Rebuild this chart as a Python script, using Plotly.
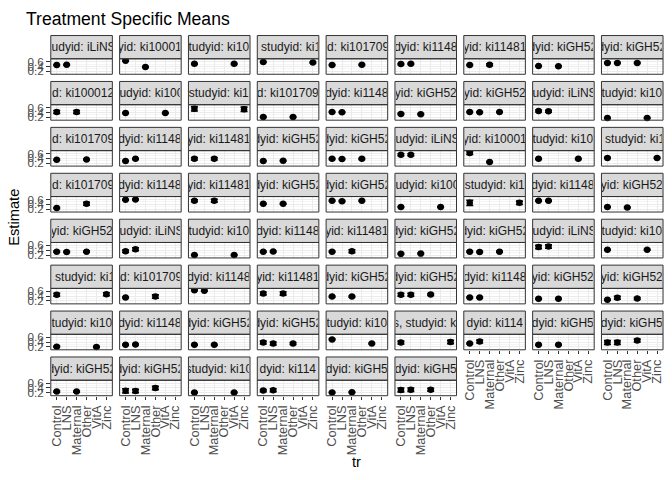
import plotly.graph_objects as go

W, H = 672, 480

categories = ["Control", "LNS", "Maternal", "Other", "VitA", "Zinc"]
y_ticks = [0.2, 0.4, 0.6]
y_tick_labels = ["0.2", "0.4", "0.6"]

strip_labels = [
    "tudyid: iLiNS", "yid: ki10001", "tudyid: ki10", ", studyid: ki1", "id: ki101709", "dyid: ki1148", "yid: ki11481", "dyid: kiGH52", "dyid: kiGH52",
    "id: ki100012", "tudyid: ki100", "studyid: ki1", "d: ki101709", "dyid: ki1148", "yid: kiGH52", "yid: kiGH52", "tudyid: iLiNS", "tudyid: ki10",
    "id: ki101709", "dyid: ki1148", "yid: ki11481", "dyid: kiGH52", "dyid: kiGH52", "tudyid: iLiNS", "yid: ki10001", "tudyid: ki10", ", studyid: ki1",
    "id: ki101709", "dyid: ki1148", "yid: ki11481", "dyid: kiGH52", "dyid: kiGH52", "tudyid: ki100", "studyid: ki1", "dyid: ki1148", "yid: kiGH52",
    "yid: kiGH52", "tudyid: iLiNS", "tudyid: ki10", "dyid: ki1148", "yid: ki11481", "dyid: kiGH52", "dyid: kiGH52", "tudyid: iLiNS", "tudyid: ki10",
    ", studyid: ki1", "id: ki101709", "dyid: ki1148", "yid: ki11481", "dyid: kiGH52", "dyid: kiGH52", "dyid: ki1148", "yid: kiGH52", "yid: kiGH52",
    "tudyid: ki10", "dyid: ki1148", "dyid: kiGH52", "dyid: kiGH52", "tudyid: ki10", "s, studyid: ki", "dyid: ki114", "dyid: kiGH5", "dyid: kiGH5",
    "dyid: kiGH52", "dyid: kiGH52", "studyid: ki10", "dyid: ki114", "dyid: kiGH5", "dyid: kiGH5",
]

C, L, M, O, V, Z = categories
panel_tr = [
    [C, L], [C, M], [C, V], [C, Z], [C, O], [C, L], [C, M], [C, M], [C, L, O],
    [C, M], [C, V], [C, Z], [C, O], [C, L], [C, M], [C, L, O], [C, L], [C, V],
    [C, O], [C, L], [C, M], [C, M], [C, L, O], [C, L], [C, M], [C, V], [C, Z],
    [C, O], [C, L], [C, M], [C, M], [C, L, O], [C, V], [C, Z], [C, L], [C, M],
    [C, L, O], [C, L], [C, V], [C, L], [C, M], [C, M], [C, L, O], [C, L], [C, V],
    [C, Z], [C, O], [C, L], [C, M], [C, M], [C, L, O], [C, L], [C, M], [C, L, O],
    [C, V], [C, L], [C, M], [C, L, O], [C, V], [C, Z], [C, L], [C, M], [C, L, O],
    [C, M], [C, L, O], [C, V], [C, L], [C, M], [C, L, O],
]
panel_est = [
    [0.46, 0.47], [0.64, 0.38], [0.51, 0.51], [0.59, 0.57], [0.46, 0.47], [0.50, 0.51], [0.46, 0.47], [0.42, 0.41], [0.55, 0.55, 0.55],
    [0.42, 0.42], [0.38, 0.38], [0.55, 0.53], [0.21, 0.21], [0.42, 0.41], [0.34, 0.33], [0.42, 0.41, 0.42], [0.46, 0.45], [0.17, 0.17],
    [0.34, 0.35], [0.29, 0.38], [0.38, 0.38], [0.29, 0.30], [0.38, 0.37, 0.38], [0.55, 0.55], [0.62, 0.25], [0.38, 0.38], [0.42, 0.42],
    [0.25, 0.42], [0.59, 0.60], [0.55, 0.55], [0.42, 0.42], [0.55, 0.53, 0.55], [0.29, 0.29], [0.46, 0.46], [0.55, 0.55], [0.29, 0.27],
    [0.34, 0.33, 0.34], [0.36, 0.44], [0.20, 0.20], [0.34, 0.35], [0.34, 0.36], [0.25, 0.26], [0.34, 0.33, 0.34], [0.53, 0.55], [0.42, 0.42],
    [0.46, 0.48], [0.34, 0.38], [0.64, 0.62], [0.51, 0.51], [0.38, 0.38], [0.46, 0.46, 0.47], [0.34, 0.34], [0.29, 0.29], [0.25, 0.33, 0.30],
    [0.21, 0.20], [0.29, 0.30], [0.29, 0.29], [0.38, 0.34, 0.34], [0.51, 0.34], [0.38, 0.40], [0.34, 0.42], [0.29, 0.29], [0.38, 0.38, 0.46],
    [0.25, 0.25], [0.28, 0.27, 0.40], [0.21, 0.21], [0.29, 0.31], [0.21, 0.22], [0.32, 0.33, 0.33],
]
panel_err = [
    [0.02, 0.02], [0.02, 0.02], [0.02, 0.02], [0.02, 0.02], [0.02, 0.02], [0.02, 0.02], [0.02, 0.04], [0.02, 0.02], [0.02, 0.02, 0.02],
    [0.06, 0.06], [0.02, 0.02], [0.09, 0.09], [0.02, 0.02], [0.02, 0.02], [0.02, 0.02], [0.02, 0.02, 0.02], [0.04, 0.04], [0.02, 0.02],
    [0.02, 0.02], [0.02, 0.02], [0.05, 0.05], [0.02, 0.02], [0.02, 0.02, 0.02], [0.04, 0.04], [0.06, 0.02], [0.02, 0.02], [0.02, 0.02],
    [0.02, 0.06], [0.02, 0.02], [0.04, 0.06], [0.02, 0.02], [0.02, 0.02, 0.02], [0.02, 0.02], [0.11, 0.07], [0.02, 0.02], [0.02, 0.02],
    [0.02, 0.02, 0.02], [0.05, 0.06], [0.02, 0.02], [0.02, 0.02], [0.02, 0.06], [0.02, 0.02], [0.02, 0.02, 0.02], [0.07, 0.07], [0.02, 0.02],
    [0.06, 0.06], [0.02, 0.07], [0.02, 0.02], [0.06, 0.07], [0.02, 0.02], [0.06, 0.06, 0.04], [0.02, 0.02], [0.02, 0.02], [0.02, 0.06, 0.04],
    [0.02, 0.02], [0.02, 0.02], [0.02, 0.02], [0.06, 0.06, 0.04], [0.02, 0.02], [0.06, 0.07], [0.02, 0.06], [0.02, 0.02], [0.08, 0.08, 0.06],
    [0.02, 0.02], [0.09, 0.07, 0.07], [0.02, 0.02], [0.04, 0.06], [0.02, 0.02], [0.08, 0.07, 0.06],
]

# ---- layout geometry (pixels) ----
NCOL, NROW = 9, 8
LEFT, RIGHT = 49.0, 664.0
GAP = 7.3
PW = (RIGHT - LEFT - GAP * (NCOL - 1)) / NCOL
TOP = 32.0
STRIP_H = 23.6
PH = 15.7
PITCH = STRIP_H + PH + GAP
Y_RANGE = [0.08, 0.72]
FONT = "Liberation Sans, Arial, Helvetica, sans-serif"

fig = go.Figure()
shapes, annotations = [], []
n = len(strip_labels)
for i in range(n):
    r, c = divmod(i, NCOL)
    x0 = LEFT + c * (PW + GAP)
    x1 = x0 + PW
    st = TOP + r * PITCH
    sb = st + STRIP_H
    pb = sb + PH
    k = "" if i == 0 else str(i + 1)
    bottom = (i + NCOL >= n)
    fig.add_trace(go.Scatter(
        x=panel_tr[i], y=panel_est[i], mode="markers",
        marker=dict(color="black", size=6.5),
        error_y=dict(type="data", array=panel_err[i], color="black", thickness=1.6, width=3.5),
        xaxis="x" + k, yaxis="y" + k, showlegend=False, cliponaxis=False,
    ))
    fig.layout["xaxis" + k] = dict(
        domain=[x0 / W, x1 / W], anchor="y" + k, type="category",
        categoryorder="array", categoryarray=categories, range=[-0.6, 5.6],
        tickmode="array", tickvals=categories, ticktext=categories,
        showgrid=True, gridcolor="#EBEBEB", gridwidth=1, zeroline=False,
        showline=False, fixedrange=True,
        showticklabels=bottom, ticks="outside" if bottom else "",
        ticklen=3.7, tickcolor="#333333", tickwidth=1, tickangle=-90,
        tickfont=dict(family=FONT, size=12.8, color="#4D4D4D"),
    )
    fig.layout["yaxis" + k] = dict(
        domain=[1 - pb / H, 1 - sb / H], anchor="x" + k, range=Y_RANGE,
        tickmode="array", tickvals=y_ticks, ticktext=y_tick_labels,
        showgrid=True, gridcolor="#EBEBEB", gridwidth=1, zeroline=False,
        minor=dict(tickvals=[0.1, 0.3, 0.5, 0.7], showgrid=True, gridcolor="#F4F4F4", gridwidth=0.6),
        showline=False, fixedrange=True,
        showticklabels=(c == 0), ticks="outside" if c == 0 else "",
        ticklen=3.7, tickcolor="#333333", tickwidth=1,
        tickfont=dict(family=FONT, size=11.7, color="#4D4D4D"),
    )
    shapes.append(dict(type="rect", xref="paper", yref="paper",
                       x0=x0 / W, x1=x1 / W, y0=1 - sb / H, y1=1 - st / H,
                       fillcolor="#D9D9D9", line=dict(color="#333333", width=1), layer="above"))
    shapes.append(dict(type="rect", xref="paper", yref="paper",
                       x0=x0 / W, x1=x1 / W, y0=1 - pb / H, y1=1 - sb / H,
                       fillcolor="rgba(0,0,0,0)", line=dict(color="#333333", width=1), layer="above"))
    annotations.append(dict(
        text=strip_labels[i], xref="paper", yref="paper",
        x=(x0 + x1) / 2 / W, y=1 - (st + sb) / 2 / H, xanchor="center", yanchor="middle",
        showarrow=False, width=PW - 2, borderpad=0, align="center",
        font=dict(family=FONT, size=12.0, color="#1A1A1A"),
    ))

annotations.append(dict(text="Treatment Specific Means", xref="paper", yref="paper",
                        x=22 / W, y=1 - 15 / H, xanchor="left", yanchor="middle", showarrow=False,
                        font=dict(family=FONT, size=17.6, color="black")))
annotations.append(dict(text="Estimate", xref="paper", yref="paper", textangle=-90,
                        x=12 / W, y=1 - 216 / H, xanchor="center", yanchor="middle", showarrow=False,
                        font=dict(family=FONT, size=14.7, color="black")))
annotations.append(dict(text="tr", xref="paper", yref="paper",
                        x=(LEFT + RIGHT) / 2 / W, y=1 - 465 / H, xanchor="center", yanchor="middle", showarrow=False,
                        font=dict(family=FONT, size=14.7, color="black")))

fig.update_layout(
    width=W, height=H, margin=dict(l=0, r=0, t=0, b=0),
    paper_bgcolor="white", plot_bgcolor="white",
    shapes=shapes, annotations=annotations, showlegend=False,
)
fig.write_html("out.html")
